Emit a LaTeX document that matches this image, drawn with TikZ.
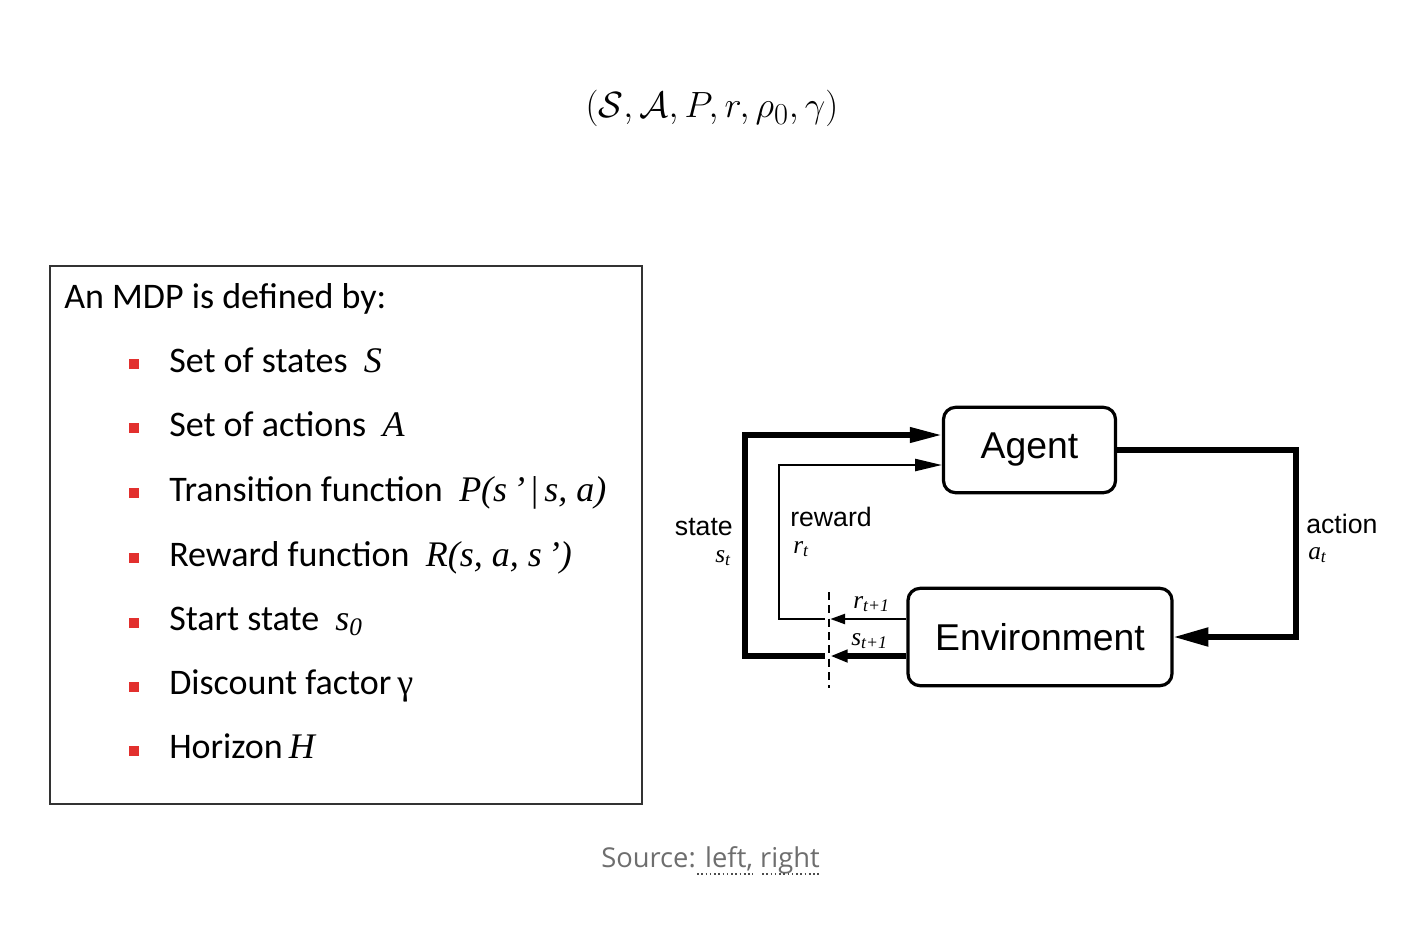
\documentclass[tikz,border=0pt]{standalone}
\usepackage{fontspec}
\usepackage{graphicx}
\setmainfont{Carlito}
\newfontfamily\helv{Liberation Sans}
\newfontfamily\tms{Liberation Serif}
\newfontfamily\srcfont{Open Sans}
\usetikzlibrary{arrows.meta}
\definecolor{bulletred}{RGB}{226,48,46}
\definecolor{srcgray}{RGB}{110,110,110}

\tikzset{
  box/.style={draw, line width=2.4pt, rounded corners=9pt, font=\helv\fontsize{28}{32}\selectfont},
  thickline/.style={line width=3.8pt},
  thinline/.style={line width=1.6pt},
  lab/.style={font=\helv\fontsize{20}{22}\selectfont, inner sep=0pt},
  sym/.style={font=\tms\itshape\fontsize{19}{21}\selectfont, inner sep=0pt},
  item/.style={anchor=base west, inner sep=0pt, font=\fontsize{27}{32}\selectfont},
  sq/.style={fill=bulletred, minimum size=7.5pt, inner sep=0pt}
}

\begin{document}
\begin{tikzpicture}[x=0.75pt,y=-0.75pt]
\def\xs{745};
\def\xr{779};
\def\xcut{829};
\def\xa{1296};

\def\ys{435};
\def\yr{465};
\def\yrr{619};
\def\yss{656};

\path[fill=white] (0,0) rectangle (1407,940);

% tuple
\node[text=black] (tuple) at (712,108) {\fontsize{24.88}{30}\selectfont\scalebox{1.1}{$(\mathcal{S},\mathcal{A},P,r,\rho_0,\gamma)$}};

% left box
\draw[line width=1pt, draw=black!80] (50,266) rectangle (642,804);
\node[item] (head) at (64,308) {An MDP is defined by:};

\node[sq] (b1) at (134,364) {};
\node[item] (i1) at (169,372) {Set of states\ \ {\tms\itshape S}};
\node[sq] (b2) at (134,428) {};
\node[item] (i2) at (169,436) {Set of actions\ \ {\tms\itshape A}};
\node[sq] (b3) at (134,493) {};
\node[item] (i3) at (169,501) {Transition function\ \ {\tms\itshape P(s\,’\,{\upshape|}\,s, a)}};
\node[sq] (b4) at (134,558) {};
\node[item] (i4) at (169,566) {Reward function\ \ {\tms\itshape R(s, a, s\,’)}};
\node[sq] (b5) at (134,623) {};
\node[item] (i5) at (169,630) {Start state\ \ {\tms\itshape s\textsubscript{0}}};
\node[sq] (b6) at (134,687) {};
\node[item] (i6) at (169,694) {Discount factor\,{\tms γ}};
\node[sq] (b7) at (134,751) {};
\node[item] (i7) at (169,758) {Horizon\,{\tms\itshape H}};

% agent / environment
\node[box, minimum width=129pt, minimum height=64pt] (agent) at (1029.5,450) {Agent};
\node[box, minimum width=198pt, minimum height=73pt] (env) at (1040,637) {Environment};

\coordinate (cutr) at (\xcut,\yrr);
\coordinate (cuts) at (\xcut,\yss);

\draw[thickline, -{Triangle[length=26pt,width=13.5pt]}] (agent.east) -| (\xa,540) |- (env.east);

\draw[thickline, -{Triangle[length=13pt,width=9pt]}] (env.west |- cuts) -- ([xshift=1pt]cuts);
\draw[thickline, -{Triangle[length=24pt,width=11pt]}] ([xshift=-3pt]cuts) -| (\xs,\ys) -- (agent.west |- 0,\ys);

\draw[thinline, -{Triangle[length=11pt,width=7.5pt]}] (env.west |- cutr) -- ([xshift=1pt]cutr);
\draw[thinline, -{Triangle[length=20pt,width=9pt]}] ([xshift=-3pt]cutr) -| (\xr,\yr) -- (agent.west |- 0,\yr);

\draw[line width=0.9pt, dash pattern=on 6pt off 4pt] (\xcut,592) -- (\xcut,688);

% labels
\node[lab, anchor=base east] (st) at (733,535) {state};
\node[sym, anchor=base east] (stv) at (731,562) {s\textsubscript{t}};
\node[lab, anchor=base west] (rw) at (790,526) {reward};
\node[sym, anchor=base west] (rwv) at (793,553) {r\textsubscript{t}};
\node[lab, anchor=base west] (ac) at (1306,533) {action};
\node[sym, anchor=base west] (acv) at (1308,559) {a\textsubscript{t}};
\node[sym, anchor=base west] (rn) at (853,608) {r\textsubscript{t+1}};
\node[sym, anchor=base west] (sn) at (851,645) {s\textsubscript{t+1}};

% source
\node[anchor=base west, inner sep=0pt, text=srcgray, font=\srcfont\fontsize{20.5}{24}\selectfont] (src) at (601,867) {Source: left, right};
\draw[black!70, line width=1.2pt, dotted] (697,874) -- (753,874);
\draw[black!70, line width=1.2pt, dotted] (762,874) -- (820,874);

\end{tikzpicture}
\end{document}
